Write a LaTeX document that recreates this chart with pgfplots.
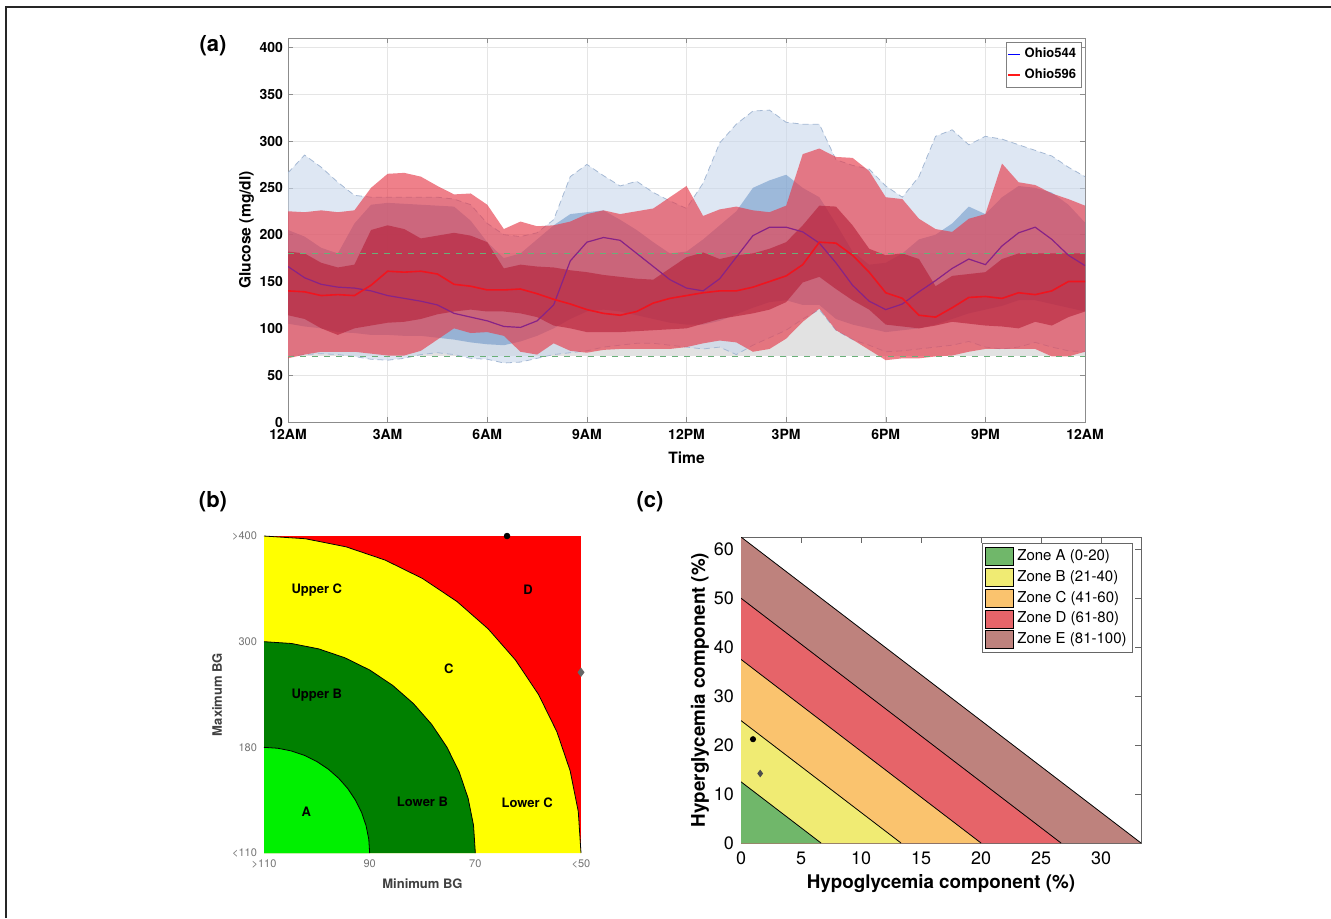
\documentclass[border=0pt]{standalone}
\usepackage{pgfplots}
\pgfplotsset{compat=1.18}
\usepackage{pgfplotstable}
\usepackage{fontspec}
\setmainfont{TeX Gyre Heros}

\definecolor{tgtgray}{RGB}{226,226,226}
\definecolor{bluelight}{RGB}{200,215,235}
\definecolor{blueedge}{RGB}{165,185,212}
\definecolor{bluemid}{RGB}{80,130,190}
\definecolor{redlight}{RGB}{230,60,75}
\definecolor{reddark}{RGB}{180,30,55}
\definecolor{tgtgreen}{RGB}{105,175,120}
\definecolor{purpline}{RGB}{135,35,135}
\definecolor{redline}{RGB}{240,20,30}
\definecolor{zA}{RGB}{112,183,106}
\definecolor{zB}{RGB}{240,235,115}
\definecolor{zC}{RGB}{250,195,110}
\definecolor{zD}{RGB}{230,100,105}
\definecolor{zE}{RGB}{190,130,125}
\definecolor{cegaD}{RGB}{255,0,0}
\definecolor{cegaC}{RGB}{255,255,0}
\definecolor{cegaB}{RGB}{0,128,0}
\definecolor{cegaA}{RGB}{0,240,0}

% t: hour of day; b = Ohio544, r = Ohio596 (lo, q25, mean, q75, hi)
\pgfplotstableread{
t    blo bq25 bm  bq75 bhi rlo rq25 rm  rq75 rhi
0    70  105  166 205  266 68  114  140 182  225
0.5  72  102  154 198  285 72  110  139 180  224
1    73  100  147 186  272 75  100  135 170  226
1.5  72  96   144 180  256 75  93   136 165  224
2    70  95   143 212  242 75  100  135 168  226
2.5  67  93   140 232  240 73  103  146 205  250
3    66  93   135 234  240 71  106  161 210  265
3.5  68  92   132 233  240 71  107  160 206  266
4    72  92   129 232  240 76  110  161 196  262
4.5  74  90   125 231  240 88  115  158 199  252
5    72  88   116 230  238 100 118  147 202  243
5.5  68  85   112 215  232 95  120  145 199  244
6    67  83   108 192  212 96  118  141 192  232
6.5  63  82   102 175  200 92  118  141 164  206
7    64  86   101 180  198 75  116  142 168  214
7.5  68  92   108 195  202 72  112  137 166  209
8    72  100  125 210  216 84  103  131 165  210
8.5  74  110  172 222  262 76  100  126 162  214
9    76  118  192 224  275 74  96   120 160  222
9.5  80  120  197 226  263 77  96   116 157  226
10   82  118  194 216  252 78  96   114 155  222
10.5 84  114  180 205  257 78  97   118 153  225
11   84  110  166 192  245 78  98   127 152  228
11.5 82  106  152 180  236 78  99   132 164  240
12   80  104  143 182  228 80  100  135 176  252
12.5 78  104  140 195  255 84  105  138 181  220
13   80  108  153 210  298 87  110  140 174  227
13.5 72  115  176 225  318 85  113  140 178  230
14   82  122  199 250  332 75  116  144 180  226
14.5 90  128  208 258  333 78  120  150 185  224
15   98  130  208 264  320 89  128  156 192  231
15.5 110 125  203 250  318 107 149  168 210  286
16   120 125  191 240  318 121 155  192 231  292
16.5 98  110  170 212  280 98  142  191 230  283
17   88  104  146 182  274 88  130  178 210  282
17.5 82  100  129 168  270 77  120  160 185  268
18   75  96   120 170  252 66  104  138 178  240
18.5 76  98   126 180  240 68  102  132 180  238
19   78  100  139 195  262 68  100  114 174  217
19.5 80  104  151 200  305 70  103  112 145  206
20   82  110  164 212  312 71  107  122 156  203
20.5 86  116  174 230  296 75  105  133 158  217
21   80  120  168 222  305 78  103  134 160  222
21.5 78  124  188 240  302 78  102  132 174  276
22   80  130  202 252  296 78  100  138 180  256
22.5 85  130  208 250  290 78  107  136 180  253
23   80  126  195 245  284 70  103  140 180  244
23.5 76  122  178 232  272 70  112  150 180  238
24   75  118  167 213  262 75  118  150 180  231
}\gluc
% same rows, forward then backward, to close each band as one polygon
\pgfplotstablesort[sort key=t, sort cmp={float >}]{\glucrev}{\gluc}
\pgfplotstablevertcat{\glucloop}{\gluc}
\pgfplotstablevertcat{\glucloop}{\glucrev}

% unit quarter circle for the zone borders of panel (b)
\pgfplotstableread{
c       s
1       0
0.99144 0.13053
0.96593 0.25882
0.92388 0.38268
0.86603 0.5
0.79335 0.60876
0.70711 0.70711
0.60876 0.79335
0.5     0.86603
0.38268 0.92388
0.25882 0.96593
0.13053 0.99144
0       1
}\unitarc

\begin{document}
\begin{tikzpicture}
\useasboundingbox (0,0) rectangle (665.5pt,459pt);
\draw[line width=1pt, black!85] (3.2pt,0) -- (3.2pt,455.6pt) -- (665.5pt,455.6pt);

\node[font=\bfseries\fontsize{11}{13}\selectfont] at (106.5pt,436pt) {(a)};
\node[font=\bfseries\fontsize{11}{13}\selectfont] at (106.5pt,208pt) {(b)};
\node[font=\bfseries\fontsize{11}{13}\selectfont] at (325pt,208pt) {(c)};

% ---------------- (a) ----------------
\begin{axis}[
  at={(144pt,248pt)}, anchor=south west, scale only axis,
  width=398.5pt, height=192pt,
  xmin=0, xmax=24, ymin=0, ymax=410,
  xtick={0,3,...,24},
  xticklabels={12AM,3AM,6AM,9AM,12PM,3PM,6PM,9PM,12AM},
  ytick={0,50,...,400},
  grid=major, grid style={black!10, line width=0.3pt},
  axis line style={black!45}, tick style={black!45}, major tick length=2.5pt,
  /pgf/number format/assume math mode=true,
  tick label style={font=\bfseries\fontsize{7}{8}\selectfont},
  yticklabel style={xshift=1pt},
  xlabel={Time}, ylabel={Glucose (mg/dl)},
  label style={font=\bfseries\fontsize{7.8}{9}\selectfont},
  xlabel style={at={(axis description cs:0.5,-0.094)}, anchor=center},
  ylabel style={at={(axis description cs:-0.052,0.5)}, anchor=center},
  legend style={at={(1,1)}, anchor=north east, xshift=-1.5pt, yshift=-2pt,
    font=\bfseries\fontsize{6.5}{7}\selectfont, draw=black!50, inner sep=0.8pt},
  legend cell align=left,
  legend image code/.code={\draw[#1] (0pt,0pt) -- (6pt,0pt);},
]
\addplot[fill=tgtgray, draw=none, forget plot] coordinates {(0,70) (24,70) (24,180) (0,180)} -- cycle;

\addplot[fill=bluelight, fill opacity=0.6, draw=none, forget plot]
  table[x=t, y expr={\coordindex<49 ? \thisrow{bhi} : \thisrow{blo}}] {\glucloop} -- cycle;
\addplot[densely dashed, blueedge, line width=0.4pt, forget plot] table[x=t, y=bhi] {\gluc};
\addplot[densely dashed, blueedge, line width=0.4pt, forget plot] table[x=t, y=blo] {\gluc};
\addplot[fill=bluemid, fill opacity=0.45, draw=none, forget plot]
  table[x=t, y expr={\coordindex<49 ? \thisrow{bq75} : \thisrow{bq25}}] {\glucloop} -- cycle;
\addplot[fill=redlight, fill opacity=0.65, draw=none, forget plot]
  table[x=t, y expr={\coordindex<49 ? \thisrow{rhi} : \thisrow{rlo}}] {\glucloop} -- cycle;
\addplot[fill=reddark, fill opacity=0.6, draw=none, forget plot]
  table[x=t, y expr={\coordindex<49 ? \thisrow{rq75} : \thisrow{rq25}}] {\glucloop} -- cycle;

\addplot[dashed, tgtgreen, line width=0.6pt, forget plot] coordinates {(0,70) (24,70)};
\addplot[dashed, tgtgreen, line width=0.6pt, forget plot] coordinates {(0,180) (24,180)};

\addplot[purpline, line width=0.6pt, forget plot] table[x=t, y=bm] {\gluc};
\addplot[redline, line width=0.8pt, forget plot] table[x=t, y=rm] {\gluc};

\addlegendimage{blue, line width=0.6pt}
\addlegendentry{Ohio544}
\addlegendimage{red!90, line width=0.6pt}
\addlegendentry{Ohio596}
\end{axis}

% ---------------- (b) ----------------
\begin{axis}[
  at={(132pt,32.5pt)}, anchor=south west, scale only axis,
  width=158.5pt, height=158.5pt,
  xmin=0, xmax=3, ymin=0, ymax=3, clip=false,
  axis line style={draw=none}, major tick length=0pt,
  xtick={0,1,2,3}, xticklabels={>110,90,70,<50},
  ytick={0,1,2,3}, yticklabels={<110,180,300,>400},
  tick label style={font=\fontsize{5.5}{6}\selectfont, text=black!55},
  xlabel={Minimum BG}, ylabel={Maximum BG},
  label style={font=\bfseries\fontsize{6.5}{7}\selectfont, text=black!75},
  xlabel style={at={(axis description cs:0.5,-0.098)}, anchor=center},
  ylabel style={at={(axis description cs:-0.148,0.5)}, anchor=center},
]
\addplot[fill=cegaD, draw=none] coordinates {(0,0) (3,0) (3,3) (0,3)} -- cycle;
\addplot[fill=cegaC, draw=none] table[x expr=3*\thisrow{c}, y expr=3*\thisrow{s}] {\unitarc} \closedcycle;
\addplot[fill=cegaB, draw=none] table[x expr=2*\thisrow{c}, y expr=2*\thisrow{s}] {\unitarc} \closedcycle;
\addplot[fill=cegaA, draw=none] table[x expr=\thisrow{c}, y expr=\thisrow{s}] {\unitarc} \closedcycle;
\addplot[black, line width=0.4pt] table[x expr=3*\thisrow{c}, y expr=3*\thisrow{s}] {\unitarc};
\addplot[black, line width=0.4pt] table[x expr=2*\thisrow{c}, y expr=2*\thisrow{s}] {\unitarc};
\addplot[black, line width=0.4pt] table[x expr=\thisrow{c}, y expr=\thisrow{s}] {\unitarc};

\addplot[only marks, mark=*, mark size=1.4pt, black] coordinates {(2.30,3)};
\addplot[only marks, mark=diamond*, mark size=2pt, black!60] coordinates {(3,1.71)};

\begin{scope}[every node/.style={font=\bfseries\fontsize{6.5}{7}\selectfont}]
\node at (axis cs:0.50,2.49) {Upper C};
\node at (axis cs:2.50,2.49) {D};
\node at (axis cs:1.75,1.74) {C};
\node at (axis cs:0.50,1.49) {Upper B};
\node at (axis cs:0.40,0.39) {A};
\node at (axis cs:1.50,0.48) {Lower B};
\node at (axis cs:2.49,0.48) {Lower C};
\end{scope}
\end{axis}

% ---------------- (c) ----------------
\begin{axis}[
  at={(370.5pt,37.5pt)}, anchor=south west, scale only axis,
  width=200pt, height=153pt,
  xmin=0, xmax=33.333, ymin=0, ymax=62.5,
  xtick={0,5,...,30}, ytick={0,10,...,60},
  axis line style={black!60}, tick style={black!60}, major tick length=3pt,
  /pgf/number format/assume math mode=true,
  tick label style={font=\fontsize{9}{10}\selectfont},
  xticklabel style={yshift=-1pt},
  xlabel={Hypoglycemia component (\%)},
  ylabel={Hyperglycemia component (\%)},
  label style={font=\bfseries\fontsize{9.4}{11}\selectfont},
  xlabel style={at={(axis description cs:0.5,-0.134)}, anchor=center},
  ylabel style={at={(axis description cs:-0.1025,0.5)}, anchor=center},
  reverse legend,
  legend style={at={(1,1)}, anchor=north east, xshift=-4pt, yshift=-3pt,
    font=\fontsize{7.5}{9}\selectfont, draw=black!60, inner sep=1pt,
    row sep=-0.6pt},
  legend cell align=left,
  legend image code/.code={\draw[#1, draw=black, line width=0.3pt] (0pt,-4.5pt) rectangle (14pt,4.5pt);},
]
\addplot[fill=zE, draw=none] coordinates {(0,0) (33.333,0) (0,62.5)} -- cycle;
\addlegendentry{Zone E (81-100)}
\addplot[fill=zD, draw=none] coordinates {(0,0) (26.667,0) (0,50)} -- cycle;
\addlegendentry{Zone D (61-80)}
\addplot[fill=zC, draw=none] coordinates {(0,0) (20,0) (0,37.5)} -- cycle;
\addlegendentry{Zone C (41-60)}
\addplot[fill=zB, draw=none] coordinates {(0,0) (13.333,0) (0,25)} -- cycle;
\addlegendentry{Zone B (21-40)}
\addplot[fill=zA, draw=none] coordinates {(0,0) (6.667,0) (0,12.5)} -- cycle;
\addlegendentry{Zone A (0-20)}

\addplot[black, line width=0.4pt, forget plot] coordinates {(0,12.5) (6.667,0)};
\addplot[black, line width=0.4pt, forget plot] coordinates {(0,25) (13.333,0)};
\addplot[black, line width=0.4pt, forget plot] coordinates {(0,37.5) (20,0)};
\addplot[black, line width=0.4pt, forget plot] coordinates {(0,50) (26.667,0)};
\addplot[black, line width=0.4pt, forget plot] coordinates {(0,62.5) (33.333,0)};

\addplot[only marks, mark=*, mark size=1.3pt, black, forget plot] coordinates {(1.0,21.2)};
\addplot[only marks, mark=diamond*, mark size=1.6pt, black!70, forget plot] coordinates {(1.6,14.2)};
\end{axis}
\end{tikzpicture}
\end{document}
